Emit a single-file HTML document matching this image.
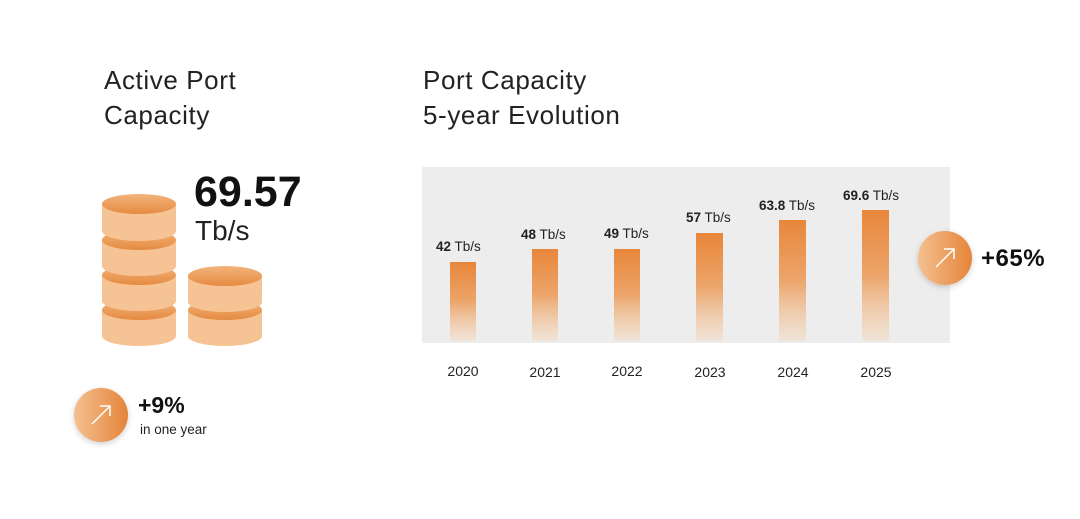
<!DOCTYPE html>
<html><head><meta charset="utf-8"><style>
body{margin:0;width:1080px;height:514px;background:#fff;overflow:hidden;font-family:"Liberation Sans",sans-serif}
</style></head><body>
<svg width="1080" height="514" viewBox="0 0 1080 514" xmlns="http://www.w3.org/2000/svg" font-family="Liberation Sans, sans-serif">
<defs>
<linearGradient id="bar" x1="0" y1="0" x2="0" y2="1">
<stop offset="0" stop-color="#e8863a"/><stop offset="0.5" stop-color="#eca56a"/><stop offset="1" stop-color="#f3ddc8" stop-opacity="0.6"/></linearGradient>
<linearGradient id="top" x1="0" y1="0" x2="0" y2="1">
<stop offset="0" stop-color="#f3b47a"/><stop offset="1" stop-color="#e58a42"/></linearGradient>
<linearGradient id="circ" x1="0" y1="0" x2="1" y2="0">
<stop offset="0" stop-color="#f4c08f"/><stop offset="1" stop-color="#e5843a"/></linearGradient>
<filter id="sh" x="-30%" y="-30%" width="160%" height="160%"><feDropShadow dx="0" dy="2" stdDeviation="3" flood-color="#000" flood-opacity="0.18"/></filter>
</defs>
<g font-size="26" fill="#222" letter-spacing="0.6">
<text x="104" y="89">Active Port</text><text x="104" y="124">Capacity</text>
<text x="423" y="89">Port Capacity</text><text x="423" y="124">5-year Evolution</text>
</g>
<text x="194" y="206" font-size="43" font-weight="bold" fill="#111">69.57</text>
<text x="195" y="240" font-size="28" fill="#222">Tb/s</text>
<g>
<path d="M102 310 v26 a37 10 0 0 0 74 0 v-26z" fill="#f5c394"/><ellipse cx="139" cy="310" rx="37" ry="10" fill="url(#top)"/>
<path d="M102 275 v26 a37 10 0 0 0 74 0 v-26z" fill="#f5c394"/><ellipse cx="139" cy="275" rx="37" ry="10" fill="url(#top)"/>
<path d="M102 240 v26 a37 10 0 0 0 74 0 v-26z" fill="#f5c394"/><ellipse cx="139" cy="240" rx="37" ry="10" fill="url(#top)"/>
<path d="M102 204 v27 a37 10 0 0 0 74 0 v-27z" fill="#f5c394"/><ellipse cx="139" cy="204" rx="37" ry="10" fill="url(#top)"/>
<path d="M188 310 v26 a37 10 0 0 0 74 0 v-26z" fill="#f5c394"/><ellipse cx="225" cy="310" rx="37" ry="10" fill="url(#top)"/>
<path d="M188 276 v26 a37 10 0 0 0 74 0 v-26z" fill="#f5c394"/><ellipse cx="225" cy="276" rx="37" ry="10" fill="url(#top)"/>
</g>
<circle cx="101" cy="415" r="27" fill="url(#circ)" filter="url(#sh)"/>
<path d="M92 424 L110 406 M100 406 H110 V416" stroke="#fff" stroke-width="1.5" fill="none"/>
<text x="138" y="413" font-size="23" font-weight="bold" fill="#111">+9%</text>
<text x="140" y="434" font-size="13.5" fill="#222">in one year</text>
<rect x="422" y="167" width="528" height="176" fill="#ededed"/>
<g fill="url(#bar)">
<rect x="450" y="262" width="26" height="79"/>
<rect x="532" y="249" width="26" height="92"/>
<rect x="614" y="249" width="26" height="92"/>
<rect x="696" y="233" width="27" height="108"/>
<rect x="779" y="220" width="27" height="121"/>
<rect x="862" y="210" width="27" height="131"/>
</g>
<g font-size="13.5" fill="#222">
<text x="436" y="251"><tspan font-weight="bold">42</tspan> Tb/s</text>
<text x="521" y="239"><tspan font-weight="bold">48</tspan> Tb/s</text>
<text x="604" y="238"><tspan font-weight="bold">49</tspan> Tb/s</text>
<text x="686" y="222"><tspan font-weight="bold">57</tspan> Tb/s</text>
<text x="759" y="210"><tspan font-weight="bold">63.8</tspan> Tb/s</text>
<text x="843" y="200"><tspan font-weight="bold">69.6</tspan> Tb/s</text>
</g>
<g font-size="14" fill="#222" text-anchor="middle">
<text x="463" y="376">2020</text><text x="545" y="377">2021</text><text x="627" y="376">2022</text>
<text x="710" y="377">2023</text><text x="793" y="377">2024</text><text x="876" y="377">2025</text>
</g>
<circle cx="945" cy="258" r="27" fill="url(#circ)" filter="url(#sh)"/>
<path d="M936 267 L954 249 M944 249 H954 V259" stroke="#fff" stroke-width="1.5" fill="none"/>
<text x="981" y="266" font-size="24" font-weight="bold" fill="#111" letter-spacing="0.5">+65%</text>
</svg>
</body></html>
